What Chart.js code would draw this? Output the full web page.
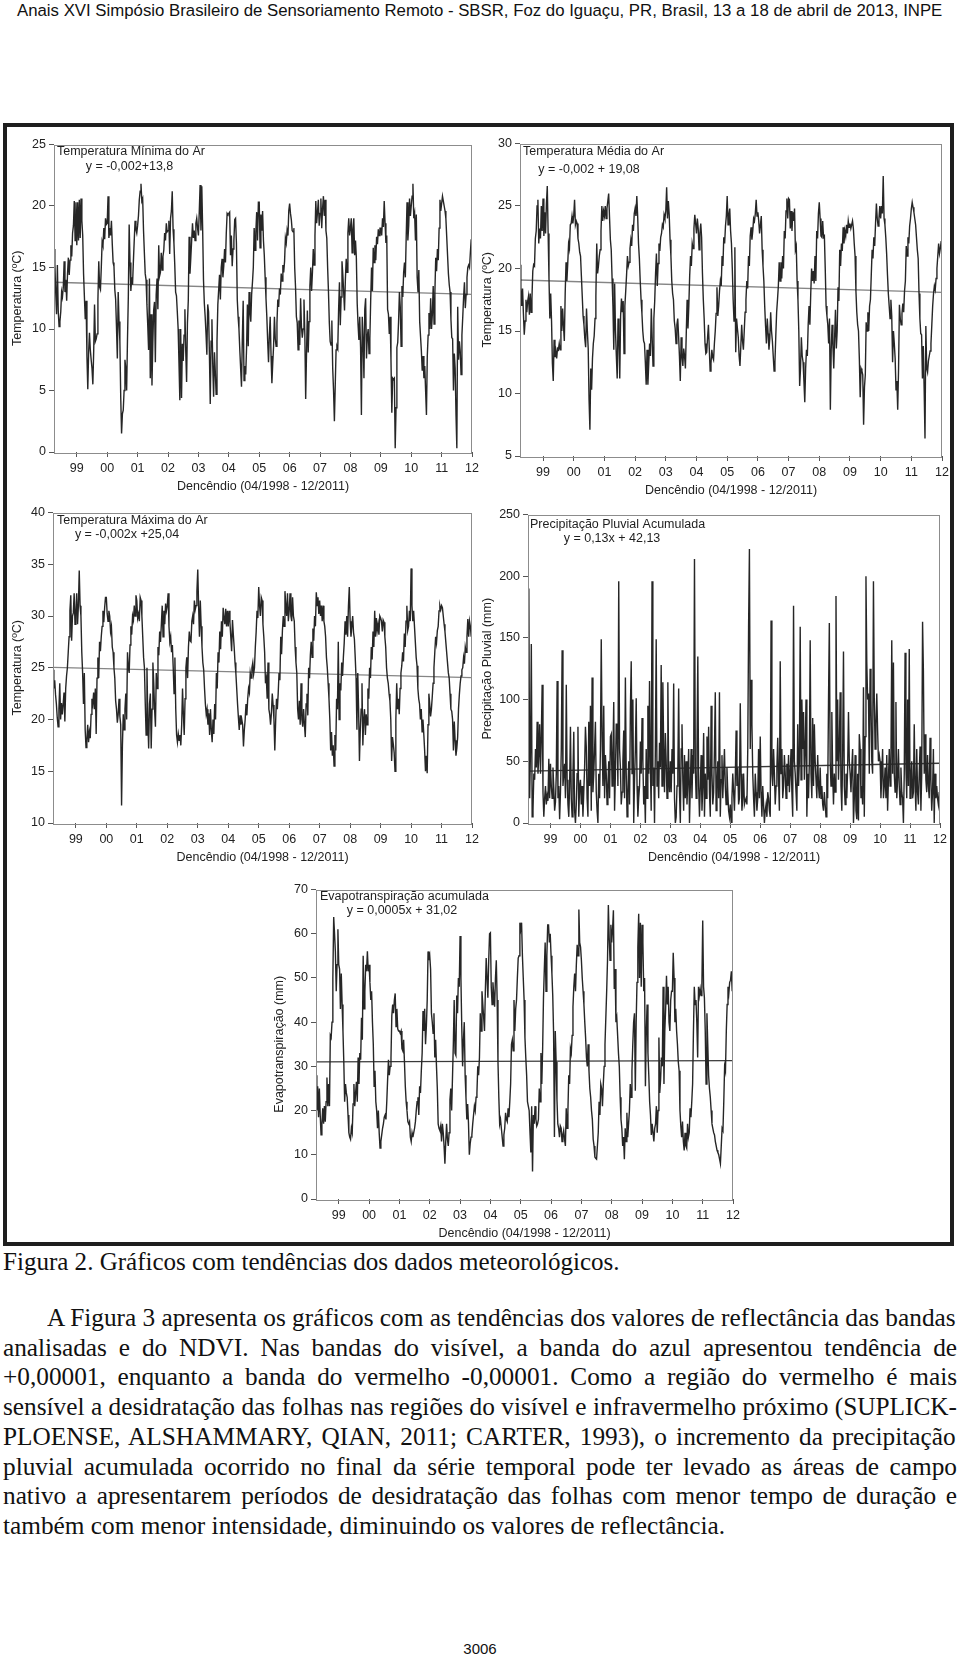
<!DOCTYPE html>
<html>
<head>
<meta charset="utf-8">
<script src="https://cdn.jsdelivr.net/npm/chart.js@4.4.1/dist/chart.umd.min.js"></script>
<style>
body { margin: 0; background: #fff; width: 960px; height: 1656px; position: relative; overflow: hidden; }
#frame { position: absolute; left: 3px; top: 123px; width: 951px; height: 1123px; border: 4px solid #1e1e1e; box-sizing: border-box; }
canvas { position: absolute; }
.txt { position: absolute; white-space: pre; color: #111; transform-origin: 0 0; }
</style>
</head>
<body>
<div id="header" class="txt">Anais XVI Simpósio Brasileiro de Sensoriamento Remoto - SBSR, Foz do Iguaçu, PR, Brasil, 13 a 18 de abril de 2013, INPE</div>
<div id="frame"></div>
<canvas id="c1"></canvas>
<canvas id="c2"></canvas>
<canvas id="c3"></canvas>
<canvas id="c4"></canvas>
<canvas id="c5"></canvas>
<div id="caption" class="txt">Figura 2. Gráficos com tendências dos dados meteorológicos.</div>
<div id="para"></div>
<div id="pagenum" class="txt">3006</div>
<script>
// decêndios 04/1998 - 12/2011 (27 in 1998, then 36 per year)
const yearLabels = ['99', '00', '01', '02', '03', '04', '05', '06', '07', '08', '09', '10', '11', '12'];

const tMin = [
  16.5,15.3,13.0,11.2,15.2,11.5,10.2,10.6,11.4,13.0,12.6,13.4,15.5,13.0,14.0,12.3,14.5,15.8,14.4,15.6,16.8,15.9,17.8,18.4,20.4,17.2,20.3,
  16.8,20.3,17.2,20.5,17.4,20.6,18.8,17.6,14.5,12.6,10.8,12.3,7.8,5.1,8.1,9.7,8.3,7.5,6.8,5.5,8.2,12.0,9.0,9.2,9.6,12.4,15.5,13.4,13.2,15.0,17.1,16.8,18.2,17.3,19.0,18.5,
  18.6,20.8,17.4,18.2,17.6,18.8,16.9,15.4,15.1,13.2,12.4,10.1,7.6,13.0,10.6,9.0,4.5,1.5,3.1,3.4,5.0,7.5,6.8,5.0,9.1,12.6,18.5,15.4,13.1,14.2,13.6,15.5,17.2,18.8,18.1,17.8,
  18.4,19.2,20.5,21.2,21.8,20.4,20.6,18.0,16.2,14.5,14.0,12.0,10.3,8.3,14.1,6.0,11.2,5.4,8.8,11.5,12.2,7.3,12.8,14.1,11.6,16.8,14.3,14.6,16.2,14.8,15.9,16.4,17.8,17.2,18.6,17.9,
  18.0,18.8,16.1,19.0,19.6,21.2,18.1,17.0,15.2,13.0,12.7,11.4,10.0,7.2,4.2,10.0,4.4,8.8,7.4,9.5,11.6,8.2,5.7,10.5,12.3,17.5,14.5,15.8,17.2,18.6,17.4,18.0,17.2,18.6,19.0,18.2,
  17.6,19.5,21.7,18.0,21.6,18.2,14.0,12.1,11.0,9.6,7.9,12.0,11.4,8.0,3.9,9.0,10.8,7.0,4.5,8.1,6.5,4.7,9.0,12.0,13.2,14.4,12.4,15.0,15.7,14.2,15.1,16.5,15.4,17.8,19.4,19.3,
  19.4,19.5,16.0,17.6,15.1,16.5,17.2,18.9,19.0,17.0,12.4,11.0,10.0,8.3,6.8,5.3,9.2,12.3,5.8,7.0,6.3,8.4,12.0,8.6,13.0,11.4,10.6,12.8,13.8,15.0,18.2,16.4,17.9,19.5,17.2,20.3,
  20.3,16.6,19.3,18.0,19.6,17.2,16.0,14.2,12.5,11.0,9.0,7.3,9.5,11.0,7.8,5.6,7.2,8.6,11.0,9.2,8.6,10.5,12.4,11.8,13.3,12.8,14.5,13.9,15.2,14.6,15.5,17.4,17.0,18.0,17.6,19.6,
  20.2,19.4,18.9,18.0,17.9,18.2,15.0,13.4,11.0,10.5,8.3,10.7,8.7,12.5,10.2,9.3,10.0,12.4,9.6,4.3,8.0,11.5,8.1,10.6,13.5,15.0,13.1,14.6,16.5,15.2,17.6,20.4,18.6,19.5,20.5,18.4,
  19.4,20.6,18.2,19.8,20.8,19.2,20.5,18.0,17.4,15.0,13.0,10.5,9.0,8.7,10.7,6.8,5.0,2.5,5.4,8.3,8.6,8.4,11.6,13.8,10.3,12.6,15.5,14.4,13.0,11.5,14.0,15.7,14.6,17.8,19.0,17.6,
  18.2,19.0,16.2,18.1,19.0,16.0,17.2,15.8,12.1,10.4,9.1,11.0,8.5,3.0,11.0,9.2,6.0,11.6,12.5,7.6,9.4,10.0,8.0,9.2,12.4,15.0,13.1,16.6,15.4,16.8,15.6,17.5,16.9,18.1,17.6,18.2,
  18.2,17.6,19.0,18.3,20.4,18.6,17.0,17.6,11.6,11.2,9.6,11.0,7.5,3.2,6.0,5.9,6.0,0.3,3.6,8.5,8.9,10.6,13.0,11.8,8.6,13.5,12.6,14.6,15.4,14.2,17.4,20.3,17.2,18.4,20.6,19.2,
  20.0,20.8,21.8,19.0,19.4,17.2,19.3,14.2,13.0,14.8,10.6,9.4,8.2,6.6,7.8,6.0,7.0,5.0,3.0,7.8,9.5,11.3,10.0,12.5,10.0,11.2,13.5,10.4,13.0,15.8,14.7,16.5,15.6,18.2,20.5,19.6,
  20.2,20.8,20.4,20.0,19.6,19.0,17.5,16.0,14.5,13.6,13.0,10.8,9.3,9.2,5.0,8.0,6.8,3.0,0.3,11.8,7.5,9.0,8.2,6.3,9.5,11.0,12.6,13.8,11.7,12.8,14.2,15.0,15.2,15.0,16.2,17.3
];

const tMean = [
  20.3,18.5,17.0,18.4,16.4,14.7,15.8,17.5,16.5,17.4,17.8,16.3,18.0,16.5,17.6,19.8,20.3,20.2,22.4,23.0,25.0,25.5,22.0,23.2,22.4,25.0,23.0,
  25.6,22.6,24.5,22.8,25.2,26.6,22.8,19.2,16.0,18.0,15.8,12.4,11.0,14.3,12.9,13.4,12.8,13.6,13.5,14.0,13.5,17.0,15.0,16.8,15.4,14.2,18.0,20.5,19.0,20.4,22.0,21.6,23.5,23.6,24.2,23.6,
  24.2,25.5,23.5,23.8,23.6,22.4,22.0,21.3,21.0,19.4,17.8,16.2,15.5,14.4,13.7,16.8,15.0,13.6,9.5,7.1,12.0,10.3,12.8,14.0,14.6,16.0,17.8,22.0,19.6,20.2,21.0,21.5,23.0,25.0,23.8,24.6,
  24.2,25.0,24.0,24.8,25.4,26.0,24.1,22.3,21.5,19.2,17.0,13.5,18.8,15.0,13.0,11.2,16.0,14.5,11.2,16.2,17.6,16.5,17.4,13.2,17.0,18.2,19.5,21.0,20.2,20.5,21.6,22.3,21.8,23.5,23.0,24.4,
  24.8,24.2,25.8,24.2,22.0,20.8,19.0,17.5,16.4,15.0,14.2,14.0,12.5,10.7,13.5,10.7,12.4,14.0,13.0,16.8,14.5,12.2,16.0,17.4,19.6,21.2,18.6,20.4,22.0,21.4,22.5,22.8,23.5,23.3,24.3,24.0,
  24.6,26.5,24.0,25.4,24.3,22.3,21.0,19.0,18.0,17.5,15.8,15.2,14.0,15.5,16.0,14.6,13.0,11.0,14.5,13.0,12.2,13.6,13.0,12.0,14.8,17.5,15.2,17.0,19.4,21.0,20.2,22.0,21.6,23.2,24.3,23.6,
  22.8,24.0,23.2,21.5,22.8,23.6,22.5,19.6,17.5,16.0,14.0,13.2,13.3,14.5,15.5,13.6,11.8,12.4,13.5,12.9,12.7,14.0,15.0,16.4,18.5,16.2,17.0,18.2,19.0,18.6,21.0,20.2,22.5,22.0,23.4,24.2,
  25.8,23.5,24.3,24.8,23.0,22.0,20.0,17.5,15.8,21.7,13.3,16.0,15.2,14.5,13.0,12.2,13.8,15.5,14.2,13.5,15.0,16.5,17.5,19.0,18.4,21.0,20.2,22.6,23.3,22.3,23.0,24.0,23.8,24.4,25.5,24.2,
  24.5,23.8,22.8,23.5,24.2,21.5,20.2,19.0,17.0,15.4,14.0,16.0,14.8,13.5,14.4,16.5,15.0,14.2,13.0,11.8,12.5,14.6,16.5,17.5,18.6,20.5,19.0,20.5,19.2,21.0,20.0,23.0,22.4,24.6,25.6,24.0,
  25.6,25.5,23.2,24.6,23.0,24.5,23.8,24.8,21.5,21.8,19.0,17.5,15.0,10.6,12.0,14.5,13.0,12.5,11.0,9.3,12.0,13.5,13.0,15.5,17.0,15.5,18.0,20.0,19.0,19.8,18.8,21.0,19.0,23.0,22.4,24.4,
  25.3,24.0,22.6,22.5,23.8,22.5,22.6,20.0,17.0,16.2,15.5,14.0,16.0,8.7,13.5,15.5,13.8,12.0,14.5,16.7,13.6,15.0,18.5,17.4,21.5,20.2,22.0,21.4,23.3,22.0,23.0,22.6,23.5,22.8,23.8,23.3,
  23.6,23.2,23.5,23.8,23.2,22.0,21.0,18.2,16.5,15.5,15.0,12.8,9.7,12.0,11.8,11.5,7.5,10.5,11.5,15.7,15.0,16.5,15.0,17.0,17.5,19.5,21.5,20.8,22.5,21.8,23.6,25.2,24.0,23.4,24.0,25.0,
  24.0,25.0,24.4,27.4,24.0,23.5,22.5,21.2,19.5,18.0,17.0,16.0,17.5,16.2,12.5,15.0,14.0,12.8,10.3,11.0,8.7,12.0,17.1,16.0,15.5,16.4,17.2,16.5,18.2,19.0,21.8,21.0,22.5,22.0,23.4,24.0,
  24.8,25.3,24.9,24.5,24.0,23.5,22.5,21.5,20.8,18.0,16.0,14.8,14.7,11.2,13.8,10.4,6.4,15.4,12.0,11.7,12.6,13.0,13.4,14.0,15.5,17.0,18.0,18.6,18.3,19.2,20.0,21.0,22.0,21.2,21.6,22.2
];

const tMax = [
  24.8,23.0,23.8,22.4,21.5,20.2,19.3,21.0,23.5,20.0,21.6,20.5,21.5,22.6,19.8,23.0,24.2,25.0,26.5,28.0,30.5,32.0,27.6,30.0,30.3,32.2,29.2,
  30.2,32.2,29.2,31.0,34.4,31.0,30.0,26.5,24.5,21.5,24.5,19.0,17.3,18.0,19.5,17.8,18.8,18.2,20.5,22.0,21.5,22.6,21.0,23.0,18.6,24.0,26.0,24.0,27.5,26.6,28.0,29.0,30.5,29.4,30.8,31.8,
  31.8,30.2,29.5,30.5,30.0,28.5,29.0,27.0,26.5,25.0,24.0,21.8,21.0,19.7,20.5,22.0,20.3,19.5,11.7,17.5,20.5,19.0,21.0,22.5,20.0,26.5,25.0,24.5,27.2,29.0,28.2,30.0,29.6,31.0,30.0,32.0,
  31.5,29.8,30.2,29.5,31.8,31.5,30.0,28.0,26.0,25.0,21.5,18.5,25.0,20.0,17.2,21.5,22.5,17.2,21.0,25.5,23.5,21.0,19.3,24.5,23.0,27.0,26.2,28.5,27.5,29.2,31.0,28.0,30.5,29.2,31.2,30.5,
  31.0,32.2,29.0,27.5,28.0,26.5,27.2,25.0,22.5,26.0,21.0,18.5,17.8,18.6,18.0,18.5,17.5,19.5,23.0,20.5,18.5,22.0,25.0,26.0,24.0,27.0,28.5,27.6,27.5,29.5,30.0,29.2,31.5,30.6,31.0,32.4,
  34.5,31.0,28.0,31.5,29.0,27.0,25.5,24.8,23.0,21.5,20.5,21.0,19.5,20.6,18.5,21.0,19.0,17.8,20.0,18.6,21.5,20.0,24.5,23.0,26.5,25.5,28.5,26.8,29.5,28.0,30.8,29.8,29.2,30.7,29.0,30.5,
  29.0,30.5,29.4,28.0,26.6,29.6,28.2,27.0,25.5,24.5,23.0,21.5,20.2,19.0,20.4,19.5,20.0,19.5,17.4,19.0,20.0,21.5,20.4,22.0,23.0,22.6,24.5,24.0,25.0,25.5,24.4,25.0,27.0,28.5,30.5,29.8,
  32.8,31.0,30.0,31.8,31.5,29.2,28.0,26.5,23.5,24.0,22.0,25.5,21.0,20.5,19.5,20.6,22.5,21.4,20.0,17.0,19.8,22.0,21.0,22.5,24.5,23.8,28.0,26.3,28.6,30.0,29.0,32.4,31.0,30.0,32.2,29.5,
  30.5,32.2,30.0,29.5,31.8,30.0,29.5,27.0,25.5,24.5,21.0,20.0,21.8,19.5,23.5,20.0,19.3,21.0,19.5,18.3,21.5,22.5,20.4,25.0,24.0,26.2,27.5,26.0,28.8,27.6,30.0,29.0,32.3,31.0,31.8,30.2,
  31.5,30.0,31.0,29.5,31.0,29.5,29.0,28.0,26.0,25.0,23.5,22.0,20.0,17.0,18.8,16.5,17.5,15.5,18.5,17.0,22.0,21.0,27.5,20.0,23.5,22.8,25.5,24.2,26.0,27.4,29.5,28.2,30.0,28.0,31.0,32.8,
  29.5,28.0,29.0,30.0,28.4,27.8,26.0,24.0,19.0,24.5,21.0,16.0,19.0,21.0,23.5,17.5,20.0,21.0,18.5,20.5,19.5,23.0,22.0,25.0,24.0,27.0,25.8,28.5,27.0,30.5,28.0,29.8,28.6,29.2,28.2,30.0,
  29.8,29.5,28.5,29.6,29.4,28.0,27.0,25.0,24.0,23.5,22.5,21.8,20.0,16.0,18.3,17.6,16.8,15.0,20.0,23.5,21.0,22.0,20.5,23.0,24.5,25.2,26.5,25.6,28.3,27.0,29.5,31.0,28.6,29.0,30.5,29.5,
  34.6,31.0,29.5,30.5,29.0,27.5,26.0,25.2,23.0,22.0,21.5,20.0,21.0,18.8,20.0,18.6,17.0,15.0,16.5,14.8,19.5,22.5,21.5,20.3,21.0,22.2,23.5,25.0,26.5,28.0,27.4,28.6,29.0,30.5,31.0,30.6,
  31.0,30.8,30.0,29.2,28.5,27.5,26.5,25.5,24.5,24.0,22.5,21.0,20.8,20.0,17.0,19.8,18.0,16.5,17.2,18.3,21.0,22.4,23.5,24.2,24.8,25.0,26.0,25.4,27.0,26.5,28.0,29.7,28.0,29.5,29.0,28.0
];

const precip = [
  40,190,20,60,145,5,10,40,35,60,45,82,40,55,80,40,70,112,25,5,20,30,15,22,18,52,20,
  48,30,20,45,28,10,17,40,115,20,30,3,25,60,140,30,40,48,20,112,35,15,5,30,78,20,5,40,74,10,0,15,40,78,5,30,
  35,15,30,5,25,45,78,62,20,5,82,30,95,10,118,25,40,60,82,25,10,0,40,20,60,149,70,30,95,20,55,40,15,30,50,20,
  70,72,30,55,98,10,40,80,80,30,196,60,45,15,25,50,75,20,118,40,5,25,50,15,92,131,40,100,0,35,60,101,30,5,20,30,
  66,40,85,50,15,30,0,60,20,95,40,115,45,10,196,30,45,0,60,149,30,50,20,65,45,128,30,114,60,25,73,50,20,114,40,25,
  50,25,60,40,113,20,0,5,30,40,109,25,0,60,80,35,10,55,20,50,15,35,60,0,30,60,20,55,40,214,45,20,60,135,30,5,
  30,55,10,30,73,5,40,20,70,35,78,25,5,95,40,15,25,60,106,10,30,50,20,106,5,35,55,20,40,60,30,15,45,25,10,5,
  15,0,20,40,25,10,35,75,30,45,15,20,97,40,10,20,40,15,18,20,15,60,159,222,60,116,80,40,20,5,40,25,10,20,60,20,
  70,25,5,30,15,0,10,15,5,25,20,10,5,164,40,30,60,40,15,30,45,69,35,10,131,40,60,20,30,55,40,20,48,30,55,25,
  40,60,25,5,176,50,40,25,10,80,30,50,159,35,100,60,90,35,60,100,5,40,20,50,148,40,20,85,30,80,50,35,20,55,30,20,
  45,20,30,15,10,25,15,5,40,20,98,162,50,30,90,40,15,40,25,184,50,100,35,60,106,30,10,55,139,30,15,40,20,45,90,50,
  40,25,45,60,0,20,55,10,3,40,2,72,60,20,30,15,110,5,70,200,130,100,105,40,125,100,50,40,196,100,60,80,105,75,50,55,
  50,20,40,60,20,30,45,20,55,10,35,60,30,50,148,40,130,40,25,98,20,35,60,30,15,45,25,20,0,40,138,45,20,100,30,141,
  20,35,50,20,25,80,30,10,60,25,15,40,62,10,40,163,123,40,72,35,25,55,30,20,69,35,10,25,60,0,40,20,30,20,15,25
];

const evapo = [
  28,20,25.5,18.5,25,19,14.5,17,20.5,17,21,17.5,22,27.5,21,26,21,37,36.5,40,50,63.8,60,56,47,53,61,
  53,52,43,51,44,38,31,22,26,24,23,19,15,14,13.5,16,15,21.5,26,21,24,26.5,22,32,26,33,31.5,41,36,55,43,47,53,51.5,56,51.5,
  53,49,45,47,40,35,25.5,29,22,20,16,20,15,11.5,13,14.5,16,17,18.5,19,18,22,27,31.5,28,30,32,41.5,44,42,45,46.5,39,43,38.5,38,
  38,37.5,38,34,33.5,36,31,25.5,22,20,17.5,17,17.5,14,13,15,14,15,16,17.5,20,22,23,19,25.5,24,29,33,42.5,38,43,35,39,45,56,54,
  55,52,42,40,37.5,42,32,36,30,25,17,16,15.5,16.5,13,17,15,12,8,13,17,13.5,12,15,22.5,25,20,27.5,35,45,33,32.5,46,42,50,48,
  59.5,50,39,30,36,40,28,23,18,21.5,17,10,12.5,14,14.5,17,19,21,20,23,24,30,28,32,42,38,47,44,41,38,47,54.5,50,45.5,54,60,
  60.2,48,44,49,46,43.5,50,54,45,31,23,17,18,16,14,12,14.5,16,19.5,18,17.5,20.5,18.5,22,26,35,36,33.5,45,38,43,45,50,54.5,55,62.5,
  61,62.5,55,50,45,36.5,32,28,22,21,20,15,10.5,21,6.2,19,17,21,18,16.5,17,18,25,22,33,26,34,45.5,52,58,47,55,62,62,58,60,
  55,51,46,37.5,14,38,31,22.5,17,16,14,16.5,16,13,14.5,15.5,13.5,12,20.5,16,20,28,26,34,33,37,43.5,48,51,47,53,57.5,55,65.5,58,57,
  54,50,47,44,40,36.5,32,30,35,29,25,23,20,18,13.5,12,9.5,9.2,9,12,15,22,19,26,25,21,26,30,35,41,47,54,66.5,59,54,62,
  58,61,65.3,47.5,52,40,41,37,33,30,23,18,16,12,14,9,16,13,19.5,14,17,20,26,23,29,35,40,42,24.5,40,49,57,64.5,50,62.5,48,
  62,58,47,50,25.5,38,44,33,28,22,19,14.5,17,15,13,16,17,21,15,20,36.5,24,27,32,30,48,26,38,43,50.5,44,48,40,38,45,47,
  47,55.7,50,40,43,38,35,31,29,20,16.5,14,17.5,13,11,15,12,11.5,17,14,15,20.5,18.5,22,26,38,48,44,45,40,32,48,46,47.5,46,48,
  63,48,45.5,38,26,42,35,28,25,23,20,17,16,15,14.5,13,12,11,10.5,10,9,8,12,16,15.5,22,30,29,38,44,48,46.5,49,49.5,51.5,47
];

// trend lines, values at start and end of the series
const trendMin = [13.8, 12.81];
const trendMean = [19.08, 18.09];
const trendMax = [25.04, 24.05];
const trendPrec = [42.1, 48.4];
const trendEt = [31.0, 31.3];

const SANS = "'Liberation Sans', Arial, sans-serif";
const SERIF = "'Liberation Serif', 'Times New Roman', serif";
const FS = 12.5;
Chart.defaults.font.family = SANS;
Chart.defaults.font.size = FS;
Chart.defaults.color = '#222';

const firstTick = 27, perYear = 36, xEnd = 495;
const tickPos = yearLabels.map((l, k) => firstTick + perYear * k);

const yw = 48, padT = 8, padR = 10, xh = 44;

const charts = [
  { id: 'c1', plot: [54, 142, 473, 452], series: tMin, trend: trendMin, y: [0, 25, 5], yTitle: 'Temperatura (ºC)',
    t1: 'Temperatura Mínima do Ar', t2: 'y = -0,002+13,8', t1o: [3, 7.3], t2o: [75.5, 21.6], d: 36, tc: '#858585' },
  { id: 'c2', plot: [520, 141, 943, 456], series: tMean, trend: trendMean, y: [5, 30, 5], yTitle: 'Temperatura (ºC)',
    t1: 'Temperatura Média do Ar', t2: 'y = -0,002 + 19,08', t1o: [3, 8], t2o: [69, 25.7], d: 32, tc: '#858585' },
  { id: 'c3', plot: [53, 510, 473, 823], series: tMax, trend: trendMax, y: [10, 40, 5], yTitle: 'Temperatura (ºC)',
    t1: 'Temperatura Máxima do Ar', t2: 'y = -0,002x +25,04', t1o: [4, 8], t2o: [74, 22], d: 35, tc: '#858585' },
  { id: 'c4', plot: [528, 512, 941, 823], series: precip, trend: trendPrec, y: [0, 250, 50], yTitle: 'Precipitação Pluvial (mm)',
    t1: 'Precipitação Pluvial Acumulada', t2: 'y = 0,13x + 42,13', t1o: [2, 9.6], t2o: [84, 23.6], d: 40, tc: '#3a3a3a' },
  { id: 'c5', plot: [316, 887, 734, 1199], series: evapo, trend: trendEt, y: [0, 70, 10], yTitle: 'Evapotranspiração (mm)',
    t1: 'Evapotranspiração acumulada', t2: 'y = 0,0005x + 31,02', t1o: [4, 7.3], t2o: [86, 21.3], d: 36, tc: '#3a3a3a' }
];

const boxPlugin = {
  id: 'box',
  afterDatasetsDraw(chart) {
    const { ctx, chartArea: a } = chart;
    ctx.save();
    ctx.strokeStyle = '#8c8c8c';
    ctx.lineWidth = 1;
    ctx.strokeRect(Math.round(a.left) + 0.5, Math.round(a.top) + 0.5, Math.round(a.right - a.left) - 1, Math.round(a.bottom - a.top));
    ctx.restore();
  },
  afterDraw(chart) {
    const c = chart.config.options.plugins.box;
    const { ctx, chartArea: a } = chart;
    ctx.save();
    ctx.fillStyle = '#1e1e1e';
    ctx.font = FS + 'px ' + SANS;
    ctx.textBaseline = 'middle';
    ctx.textAlign = 'left';
    ctx.fillText(c.t1, a.left + c.t1o[0], a.top + c.t1o[1]);
    ctx.textAlign = 'center';
    ctx.fillText(c.t2, a.left + c.t2o[0], a.top + c.t2o[1]);
    ctx.restore();
  }
};

charts.forEach(c => {
  const [l, t, r, b] = c.plot;
  const cv = document.getElementById(c.id);
  cv.width = yw + (r - l) + padR;
  cv.height = padT + (b - t) + xh;
  cv.style.left = (l - yw) + 'px';
  cv.style.top = (t - padT) + 'px';
  new Chart(cv, {
    type: 'line',
    data: {
      datasets: [
        { data: c.series.map((v, i) => ({ x: i, y: v })), borderColor: '#262626', borderWidth: 1.4, pointRadius: 0 },
        { data: [{ x: 0, y: c.trend[0] }, { x: xEnd, y: c.trend[1] }], borderColor: c.tc, borderWidth: 1.3, pointRadius: 0 }
      ]
    },
    options: {
      responsive: false,
      animation: false,
      devicePixelRatio: 1,
      layout: { padding: { left: 0, right: padR, top: padT, bottom: 0 } },
      plugins: {
        legend: { display: false },
        tooltip: { enabled: false },
        box: { t1: c.t1, t2: c.t2, t1o: c.t1o, t2o: c.t2o }
      },
      scales: {
        x: {
          type: 'linear', min: 0, max: xEnd,
          afterBuildTicks: s => { s.ticks = tickPos.map(v => ({ value: v })); },
          ticks: { autoSkip: false, maxRotation: 0, padding: 4, callback: (v, i) => yearLabels[i] },
          grid: { drawOnChartArea: false, drawTicks: true, tickLength: 5, color: '#555' },
          border: { display: false },
          title: { display: true, text: 'Dencêndio (04/1998 - 12/2011)', padding: { top: 0, bottom: 2 } },
          afterFit: s => { s.height = xh; }
        },
        y: {
          min: c.y[0], max: c.y[1],
          ticks: { stepSize: c.y[2], padding: 3 },
          grid: { drawOnChartArea: false, drawTicks: true, tickLength: 5, color: '#555' },
          border: { display: false },
          title: { display: true, text: c.yTitle, padding: { top: yw - c.d - FS * 0.6, bottom: 0 } },
          afterFit: s => { s.width = yw; }
        }
      }
    },
    plugins: [boxPlugin]
  });
});

// page text
const mctx = document.createElement('canvas').getContext('2d');
function textWidth(text, font) { mctx.font = font; return mctx.measureText(text).width; }
function place(el, fam, asc, desc, size, left, baseline, lh) {
  el.style.font = size + 'px ' + fam;
  el.style.lineHeight = lh + 'px';
  el.style.left = left + 'px';
  el.style.top = (baseline - ((lh - (asc + desc) * size) / 2 + asc * size)) + 'px';
}

const header = document.getElementById('header');
const hs = 17 * 926 / textWidth(header.textContent, '17px ' + SANS);
place(header, SANS, 0.905, 0.212, hs, 17, 16.7, 20);

const caption = document.getElementById('caption');
const cs = 21 * 617 / textWidth(caption.textContent, '21px ' + SERIF);
place(caption, SERIF, 0.891, 0.216, cs, 3, 1270.7, 24);

const paraLines = [
  'A Figura 3 apresenta os gráficos com as tendências dos valores de reflectância das bandas',
  'analisadas e do NDVI. Nas bandas do visível, a banda do azul apresentou tendência de',
  '+0,00001, enquanto a banda do vermelho -0,00001. Como a região do vermelho é mais',
  'sensível a desidratação das folhas nas regiões do visível e infravermelho próximo (SUPLICK-',
  'PLOENSE, ALSHAMMARY, QIAN, 2011; CARTER, 1993), o incremento da precipitação',
  'pluvial acumulada ocorrido no final da série temporal pode ter levado as áreas de campo',
  'nativo a apresentarem períodos de desidratação das folhas com menor tempo de duração e',
  'também com menor intensidade, diminuindo os valores de reflectância.'
];
const ps = 25;
const pfont = ps + 'px ' + SERIF;
const squeeze = 722 / textWidth(paraLines[7], pfont);
const para = document.getElementById('para');
paraLines.forEach((line, j) => {
  const el = document.createElement('div');
  el.className = 'txt';
  el.textContent = line;
  const left = j === 0 ? 47 : 3;
  place(el, SERIF, 0.891, 0.216, ps, left, 1326.5 + 29.7 * j, 30);
  el.style.transform = 'scaleX(' + squeeze + ')';
  if (j < paraLines.length - 1) {
    const nat = textWidth(line, pfont);
    const spaces = line.split(' ').length - 1;
    el.style.wordSpacing = (((957 - left) / squeeze - nat) / spaces) + 'px';
  }
  para.appendChild(el);
});

const pn = document.getElementById('pagenum');
place(pn, SANS, 0.905, 0.212, 15, 0, 1654, 18);
pn.style.left = (480 - textWidth('3006', '15px ' + SANS) / 2) + 'px';
</script>
</body>
</html>
